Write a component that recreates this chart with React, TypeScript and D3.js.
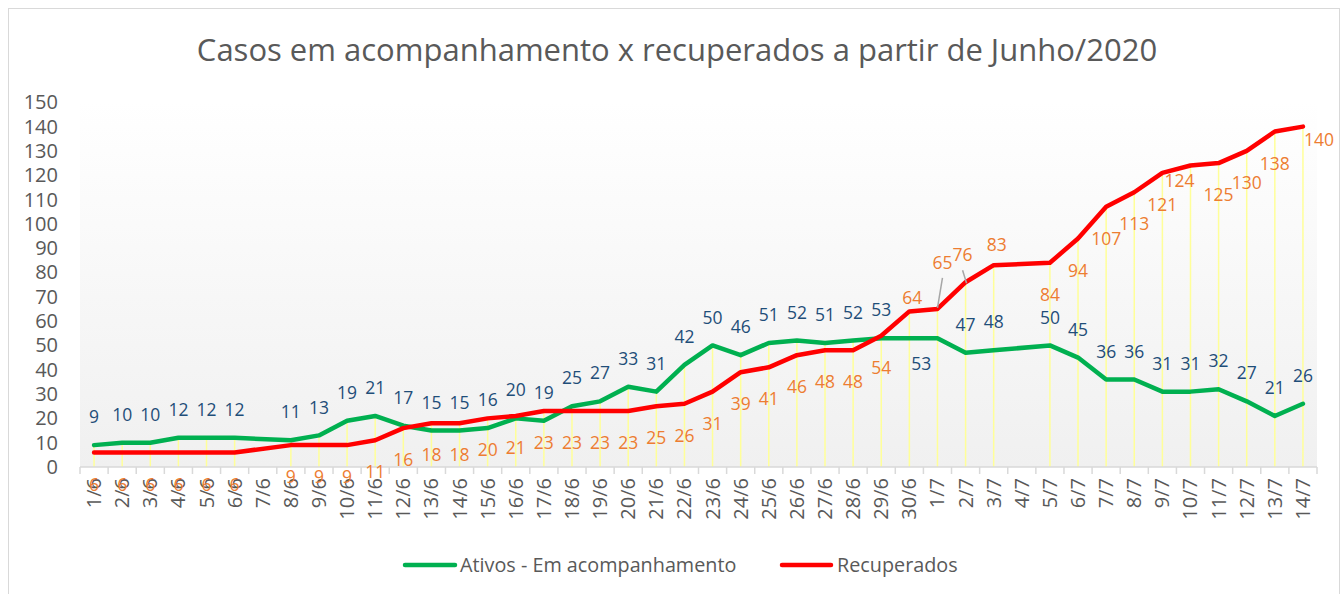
import React from "react";
import * as d3 from "d3";

const categories: string[] = [
  "1/6","2/6","3/6","4/6","5/6","6/6","7/6","8/6","9/6","10/6",
  "11/6","12/6","13/6","14/6","15/6","16/6","17/6","18/6","19/6","20/6",
  "21/6","22/6","23/6","24/6","25/6","26/6","27/6","28/6","29/6","30/6",
  "1/7","2/7","3/7","4/7","5/7","6/7","7/7","8/7","9/7","10/7",
  "11/7","12/7","13/7","14/7",
];

const ativos: (number | null)[] = [
  9,10,10,12,12,12,null,11,13,19,
  21,17,15,15,16,20,19,25,27,33,
  31,42,50,46,51,52,51,52,53,53,
  53,47,48,null,50,45,36,36,31,31,
  32,27,21,26,
];

const recuperados: (number | null)[] = [
  6,6,6,6,6,6,null,9,9,9,
  11,16,18,18,20,21,23,23,23,23,
  25,26,31,39,41,46,48,48,54,64,
  65,76,83,null,84,94,107,113,121,124,
  125,130,138,140,
];

const yTicks: number[] = [0,10,20,30,40,50,60,70,80,90,100,110,120,130,140,150];

const title = "Casos em acompanhamento x recuperados a partir de Junho/2020";
const seriesNames = ["Ativos - Em acompanhamento", "Recuperados"];

// label layout adjustments (index -> [dx, dy] relative to point), null hides
const greenLabelAdjust: Record<number, [number, number] | null> = {
  29: [12, 26],
  30: null,
};
const redLabelAdjust: Record<number, [number, number]> = {
  29: [3, -14],
  30: [5, -46],
  31: [-3, -27],
  32: [3, -20],
  39: [-11, 15],
  43: [16, 13],
};
const leaderLines: Record<number, [number, number, number, number]> = {
  30: [5, -31, 0, -1],
  31: [-3, -12, 1, 1],
};

const FONT = "'Open Sans', 'Noto Sans', sans-serif";
const GREEN = "#00B050";
const RED = "#FF0000";
const BLUE_LABEL = "#1F4E79";
const ORANGE_LABEL = "#ED7D31";
const TEXT_GRAY = "#595959";

export default function App() {
  const W = 1344, H = 594;
  const x = d3.scaleBand<string>().domain(categories).range([80, 1317]).padding(0);
  const y = d3.scaleLinear().domain([0, 150]).range([467, 102.3]);
  const cx = (i: number) => (x(categories[i]) as number) + x.bandwidth() / 2;

  const line = d3
    .line<[number, number]>()
    .x((d) => d[0])
    .y((d) => d[1])
    .curve(d3.curveLinear);

  const pts = (arr: (number | null)[]) =>
    arr
      .map((v, i) => (v == null ? null : ([cx(i), y(v)] as [number, number])))
      .filter((p): p is [number, number] => p !== null);

  const greenPath = line(pts(ativos)) || "";
  const redPath = line(pts(recuperados)) || "";

  return (
    <svg
      width={W}
      height={H}
      style={{ position: "absolute", left: 0, top: 0, background: "#fff" }}
      fontFamily={FONT}
    >
      <defs>
        <linearGradient id="plotbg" x1="0" y1="0" x2="0" y2="1">
          <stop offset="0" stopColor="#ffffff" />
          <stop offset="1" stopColor="#f0f0f0" />
        </linearGradient>
      </defs>
      <rect x={0} y={0} width={W} height={H} fill="#fff" />
      <rect x={8.5} y={8.5} width={1331} height={620} fill="none" stroke="#d9d9d9" strokeWidth={1} />

      <text x={677} y={61} textAnchor="middle" fontSize={31} fill={TEXT_GRAY}>
        {title}
      </text>

      {/* plot area */}
      <rect x={80} y={102} width={1237} height={365} fill="url(#plotbg)" />

      {/* y axis labels */}
      {yTicks.map((t) => (
        <text key={t} x={58} y={y(t)} dy="0.35em" textAnchor="end" fontSize={20} fill={TEXT_GRAY}>
          {t}
        </text>
      ))}

      {/* drop lines */}
      {categories.map((c, i) => {
        const a = ativos[i];
        const r = recuperados[i];
        if (a == null && r == null) return null;
        const m = Math.max(a ?? 0, r ?? 0);
        return (
          <line key={"d" + c} x1={cx(i)} x2={cx(i)} y1={y(m)} y2={y(0)} stroke="#FFFF99" strokeWidth={1.5} />
        );
      })}

      {/* x axis */}
      <line x1={80} x2={1317} y1={467} y2={467} stroke="#d9d9d9" strokeWidth={1.5} />
      {d3.range(categories.length + 1).map((k) => {
        const xx = 80 + k * x.bandwidth();
        return <line key={"t" + k} x1={xx} x2={xx} y1={467} y2={474} stroke="#d9d9d9" strokeWidth={1.5} />;
      })}
      {categories.map((c, i) => (
        <text
          key={"x" + c}
          transform={`translate(${cx(i)},478) rotate(-90)`}
          textAnchor="end"
          dy="0.35em"
          fontSize={20}
          fill={TEXT_GRAY}
        >
          {c}
        </text>
      ))}

      {/* lines */}
      <path d={greenPath} fill="none" stroke={GREEN} strokeWidth={4.5} strokeLinejoin="round" strokeLinecap="round" />
      <path d={redPath} fill="none" stroke={RED} strokeWidth={4.5} strokeLinejoin="round" strokeLinecap="round" />

      {/* leader lines */}
      {Object.entries(leaderLines).map(([k, v]) => {
        const i = +k;
        const v0 = recuperados[i] as number;
        return (
          <line
            key={"l" + k}
            x1={cx(i) + v[0]}
            y1={y(v0) + v[1]}
            x2={cx(i) + v[2]}
            y2={y(v0) + v[3]}
            stroke="#a6a6a6"
            strokeWidth={1.5}
          />
        );
      })}

      {/* green labels */}
      {ativos.map((v, i) => {
        if (v == null) return null;
        const adj = greenLabelAdjust[i];
        if (adj === null) return null;
        const [dx, dy] = adj ?? [0, -28];
        return (
          <text key={"ga" + i} x={cx(i) + dx} y={y(v) + dy} dy="0.35em" textAnchor="middle" fontSize={17.5} fill={BLUE_LABEL}>
            {v}
          </text>
        );
      })}

      {/* red labels */}
      {recuperados.map((v, i) => {
        if (v == null) return null;
        const [dx, dy] = redLabelAdjust[i] ?? [0, 32];
        return (
          <text key={"ra" + i} x={cx(i) + dx} y={y(v) + dy} dy="0.35em" textAnchor="middle" fontSize={17.5} fill={ORANGE_LABEL}>
            {v}
          </text>
        );
      })}

      {/* legend */}
      <line x1={405} x2={455} y1={565} y2={565} stroke={GREEN} strokeWidth={4.5} strokeLinecap="round" />
      <text x={460} y={565} dy="0.35em" fontSize={19.8} fill={TEXT_GRAY}>
        {seriesNames[0]}
      </text>
      <line x1={782} x2={831} y1={565} y2={565} stroke={RED} strokeWidth={4.5} strokeLinecap="round" />
      <text x={837} y={565} dy="0.35em" fontSize={19.8} fill={TEXT_GRAY}>
        {seriesNames[1]}
      </text>
    </svg>
  );
}
